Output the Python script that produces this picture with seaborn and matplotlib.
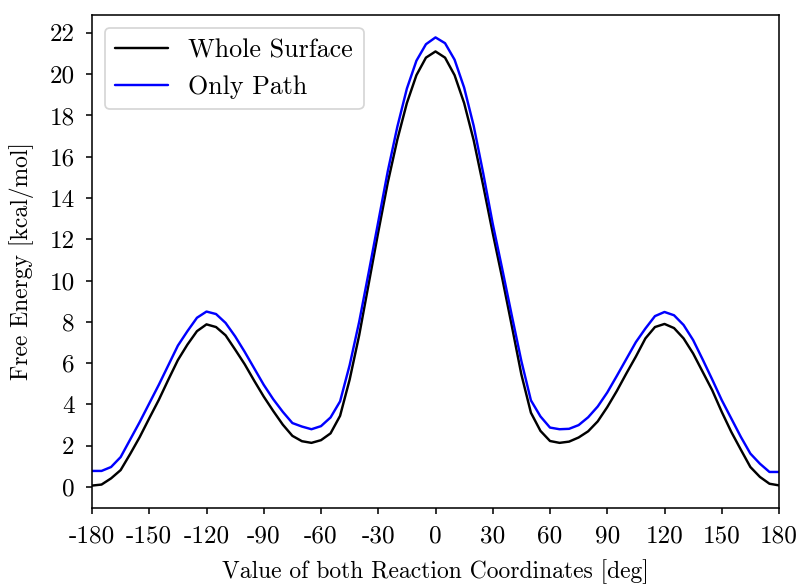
import numpy as np
import pandas as pd
import matplotlib
matplotlib.use("Agg")
import matplotlib.pyplot as plt
import seaborn as sns

# Reaction coordinate grid (deg)
angles = list(range(-180, 181, 5))

# Free energy profile over the full surface [kcal/mol]
whole_surface = [
    0.07, 0.12, 0.42, 0.82, 1.60, 2.42, 3.33, 4.22, 5.20, 6.15,
    6.90, 7.55, 7.88, 7.75, 7.35, 6.66, 5.95, 5.15, 4.38, 3.68,
    3.02, 2.48, 2.22, 2.14, 2.27, 2.60, 3.45, 5.20, 7.35, 9.85,
    12.35, 14.75, 16.83, 18.60, 19.95, 20.80, 21.10, 20.80, 19.95, 18.60,
    16.80, 14.60, 12.30, 10.10, 7.80, 5.45, 3.60, 2.72, 2.23, 2.14,
    2.20, 2.40, 2.70, 3.18, 3.87, 4.65, 5.50, 6.32, 7.20, 7.75,
    7.90, 7.70, 7.20, 6.47, 5.58, 4.69, 3.64, 2.67, 1.81, 0.97,
    0.49, 0.16, 0.08,
]

# Free energy profile along the path only [kcal/mol]
only_path = [
    0.78, 0.78, 0.97, 1.45, 2.30, 3.15, 4.05, 4.95, 5.90, 6.85,
    7.55, 8.20, 8.50, 8.38, 7.95, 7.30, 6.55, 5.75, 4.95, 4.25,
    3.64, 3.10, 2.93, 2.80, 2.95, 3.37, 4.15, 5.90, 8.00, 10.40,
    12.85, 15.30, 17.45, 19.30, 20.65, 21.45, 21.78, 21.50, 20.70, 19.35,
    17.50, 15.20, 12.75, 10.55, 8.30, 6.10, 4.20, 3.42, 2.88, 2.80,
    2.82, 3.00, 3.38, 3.90, 4.58, 5.38, 6.20, 7.02, 7.68, 8.28,
    8.48, 8.32, 7.85, 7.12, 6.18, 5.21, 4.21, 3.32, 2.43, 1.62,
    1.13, 0.73, 0.73,
]

series_names = ["Whole Surface", "Only Path"]
series_colors = ["black", "blue"]

x_ticks = list(range(-180, 181, 30))
x_tick_labels = ["-180", "-150", "-120", "-90", "-60", "-30", "0",
                 "30", "60", "90", "120", "150", "180"]
y_ticks = list(range(0, 23, 2))
y_tick_labels = [str(v) for v in y_ticks]

x_label = "Value of both Reaction Coordinates [deg]"
y_label = "Free Energy [kcal/mol]"

df = pd.DataFrame({
    "angle": angles * 2,
    "energy": whole_surface + only_path,
    "series": [series_names[0]] * len(angles) + [series_names[1]] * len(angles),
})

sns.set_theme(style="ticks")
plt.rcParams.update({
    "font.family": ["cmr10", "DejaVu Serif"],
    "mathtext.fontset": "cm",
    "axes.unicode_minus": False,
    "axes.formatter.use_mathtext": True,
    "font.size": 14,
    "axes.labelsize": 13.6,
    "xtick.labelsize": 14.5,
    "ytick.labelsize": 14.5,
    "legend.fontsize": 15,
    "axes.edgecolor": "black",
    "axes.linewidth": 0.9,
    "xtick.color": "black",
    "ytick.color": "black",
    "xtick.major.width": 0.9,
    "ytick.major.width": 0.9,
    "xtick.major.size": 3.5,
    "ytick.major.size": 3.5,
    "xtick.major.pad": 6.5,
    "ytick.major.pad": 6.5,
    "axes.labelcolor": "black",
    "text.color": "black",
})

fig = plt.figure(figsize=(802 / 125, 585 / 125), dpi=125)
ax = fig.add_axes([92 / 802, 1 - 508 / 585, (779 - 92) / 802, (508 - 15) / 585])

sns.lineplot(data=df, x="angle", y="energy", hue="series",
             palette=dict(zip(series_names, series_colors)),
             linewidth=1.4, ax=ax)

ax.set_xlim(-180, 180)
ax.set_xticks(x_ticks, labels=x_tick_labels)
ax.set_yticks(y_ticks, labels=y_tick_labels)
ax.set_xlabel(x_label, labelpad=7)
ax.set_ylabel(y_label, labelpad=9)

handles, labels = ax.get_legend_handles_labels()
ax.legend(handles, labels, loc="upper left", frameon=True,
          framealpha=0.8, edgecolor="0.8", fancybox=True)

fig.savefig("out.png", dpi=125)
